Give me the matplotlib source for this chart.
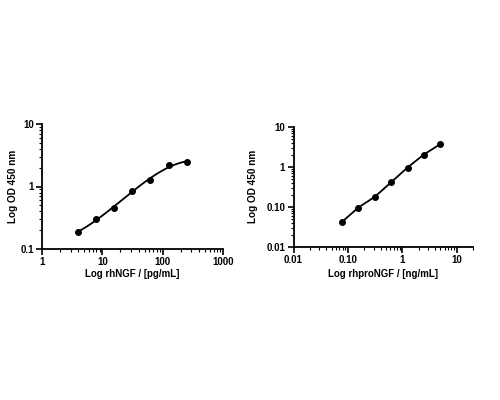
import numpy as np
import matplotlib
matplotlib.use("Agg")
import matplotlib.pyplot as plt
from matplotlib.ticker import LogLocator, FixedLocator, FixedFormatter, NullFormatter

plt.rcParams['font.family'] = ['Liberation Sans', 'DejaVu Sans']

# Left panel: rhNGF
ngf_x = [3.9, 7.8, 15.6, 31.25, 62.5, 125, 250]
ngf_y = [0.185, 0.30, 0.46, 0.86, 1.26, 2.18, 2.47]
ngf_xticks = [1, 10, 100, 1000]
ngf_xlabels = ['1', '10', '100', '1000']
ngf_yticks = [0.1, 1, 10]
ngf_ylabels = ['0.1', '1', '10']

# Right panel: rhproNGF
pro_x = [0.078, 0.156, 0.3125, 0.625, 1.25, 2.5, 5]
pro_y = [0.042, 0.096, 0.178, 0.41, 0.96, 2.03, 3.69]
pro_xticks = [0.01, 0.1, 1, 10]
pro_xlabels = ['0.01', '0.10', '1', '10']
pro_yticks = [0.01, 0.1, 1, 10]
pro_ylabels = ['0.01', '0.10', '1', '10']

fig = plt.figure(figsize=(5, 4), dpi=100)
ax1 = fig.add_axes([0.084, 0.3775, 0.362, 0.3125])
ax2 = fig.add_axes([0.587, 0.383, 0.359, 0.30])

def style(ax, xticks, xlabels, yticks, ylabels, xlim, ylim, xlabel, xl_y, yl_x):
    ax.set_xscale('log'); ax.set_yscale('log')
    ax.set_xlim(*xlim); ax.set_ylim(*ylim)
    for s in ['top', 'right']:
        ax.spines[s].set_visible(False)
    for s in ['left', 'bottom']:
        ax.spines[s].set_linewidth(1.3)
    ax.xaxis.set_major_locator(FixedLocator(xticks))
    ax.xaxis.set_major_formatter(FixedFormatter(xlabels))
    ax.yaxis.set_major_locator(FixedLocator(yticks))
    ax.yaxis.set_major_formatter(FixedFormatter(ylabels))
    ax.xaxis.set_minor_locator(LogLocator(base=10, subs=np.arange(2, 10)))
    ax.yaxis.set_minor_locator(LogLocator(base=10, subs=np.arange(2, 10)))
    ax.xaxis.set_minor_formatter(NullFormatter())
    ax.yaxis.set_minor_formatter(NullFormatter())
    ax.tick_params(which='major', length=4, width=1.2, labelsize=7, pad=2)
    ax.tick_params(which='minor', length=2, width=0.8)
    for lab in ax.get_xticklabels() + ax.get_yticklabels():
        lab.set_fontweight('bold')
    ax.set_xlabel(xlabel, fontsize=7, fontweight='bold')
    ax.set_ylabel('Log OD 450 nm', fontsize=7.2, fontweight='bold')
    ax.xaxis.set_label_coords(0.5, xl_y)
    ax.yaxis.set_label_coords(yl_x, 0.5)

# Left: smooth fit in log-log space
lx = np.log10(ngf_x); ly = np.log10(ngf_y)
coef = np.polyfit(lx, ly, 3)
fx = np.linspace(lx.min(), lx.max(), 200)
ax1.plot(10**fx, 10**np.polyval(coef, fx), color='black', lw=1.3)
ax1.plot(ngf_x, ngf_y, 'o', color='black', ms=4)
style(ax1, ngf_xticks, ngf_xlabels, ngf_yticks, ngf_ylabels, (1, 1000), (0.1, 10),
      'Log rhNGF / [pg/mL]', -0.16, -0.133)

ax2.plot(pro_x, pro_y, '-o', color='black', lw=1.3, ms=4)
style(ax2, pro_xticks, pro_xlabels, pro_yticks, pro_ylabels, (0.01, 20), (0.01, 10),
      'Log rhproNGF / [ng/mL]', -0.186, -0.198)

fig.savefig('out.png', dpi=100)
